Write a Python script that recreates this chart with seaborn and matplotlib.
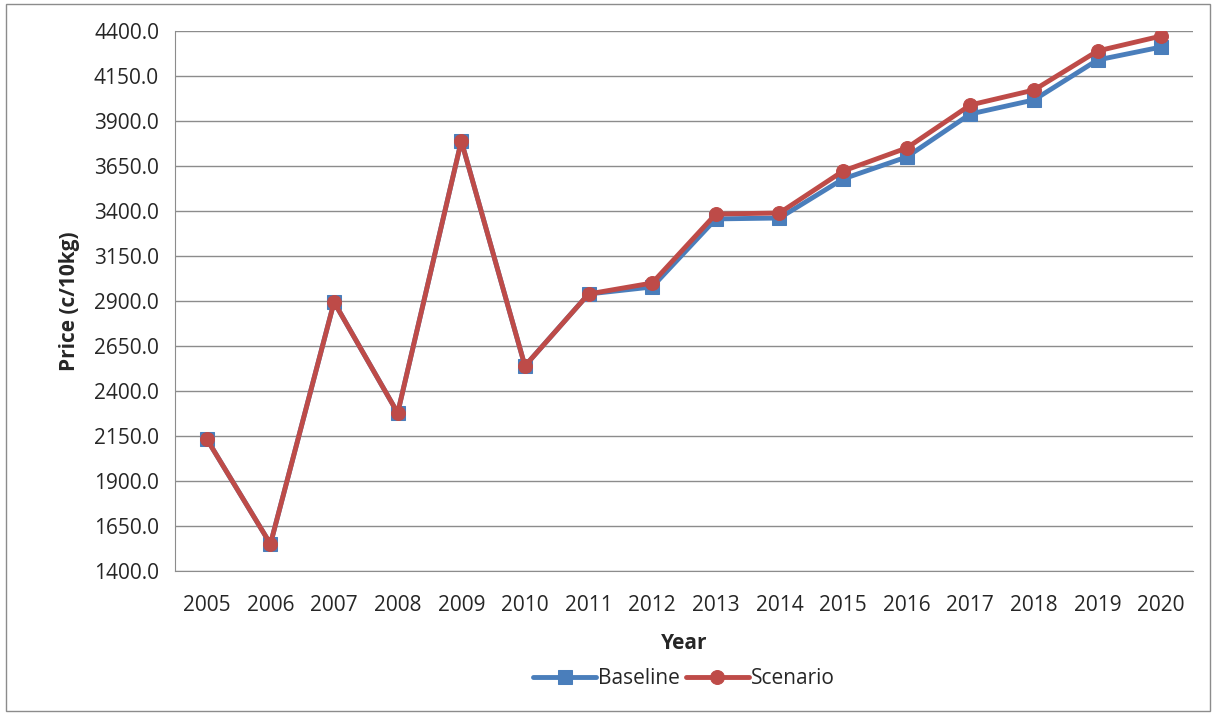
import matplotlib
matplotlib.use("Agg")
import matplotlib.pyplot as plt
import seaborn as sns
import pandas as pd

years = list(range(2005, 2021))
baseline = [2133, 1550, 2894, 2278, 3789, 2539, 2939, 2978, 3356, 3361, 3578, 3700, 3939, 4017, 4239, 4311]
scenario = [2133, 1550, 2894, 2278, 3789, 2539, 2939, 3000, 3383, 3389, 3622, 3750, 3989, 4072, 4289, 4372]
yticks = [1400 + 250 * i for i in range(13)]

sns.set_style("white")
plt.rcParams['font.family'] = ['Open Sans', 'DejaVu Sans']

df = pd.DataFrame({"Year": [str(y) for y in years] * 2,
                   "Price": baseline + scenario,
                   "Series": ["Baseline"] * 16 + ["Scenario"] * 16})

fig = plt.figure(figsize=(12.16, 7.15), dpi=100)
ax = fig.add_axes([175/1216, 1-571/715, (1193-175)/1216, 540/715])
pal = {"Baseline": "#4A7EBB", "Scenario": "#BE4B48"}
markers = {"Baseline": "s", "Scenario": "o"}
for s in ["Baseline", "Scenario"]:
    sub = df[df.Series == s]
    sns.lineplot(data=sub, x="Year", y="Price", ax=ax, color=pal[s], marker=markers[s],
                 markersize=10, linewidth=3.5, markeredgecolor=pal[s], label=s, sort=False)
ax.set_ylim(1400, 4400)
ax.set_xlim(-0.5, 15.5)
ax.set_yticks(yticks)
ax.set_yticklabels([f"{v:.1f}" for v in yticks], fontsize=15)
ax.tick_params(axis='x', labelsize=15, pad=14)
ax.tick_params(axis='y', pad=8)
ax.yaxis.grid(True, color="#8c8c8c", linewidth=1)
for sp in ["top", "right"]:
    ax.spines[sp].set_visible(False)
ax.spines["left"].set_color("#8c8c8c")
ax.spines["bottom"].set_color("#8c8c8c")
ax.set_xlabel("Year", fontsize=15, fontweight="bold", labelpad=12)
ax.set_ylabel("Price (c/10kg)", fontsize=15, fontweight="bold", labelpad=10)
ax.legend(loc="center", bbox_to_anchor=(0.5, -0.2), ncol=2, frameon=False,
          fontsize=15, handlelength=3, columnspacing=0.3, handletextpad=0.1)
fig.patches.append(plt.Rectangle((0.005, 0.005), 0.99, 0.99, transform=fig.transFigure,
                                 fill=False, edgecolor="#8c8c8c", linewidth=1))
fig.savefig("out.png", dpi=100)
